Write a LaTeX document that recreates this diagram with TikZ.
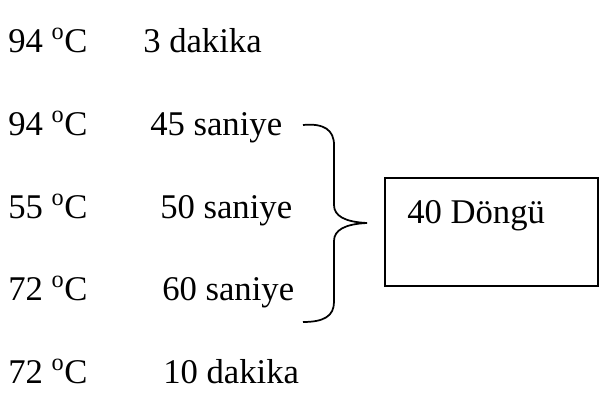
\documentclass[tikz,border=0pt]{standalone}
\usepackage{fontspec}
\setmainfont{Liberation Serif}
\begin{document}
\begin{tikzpicture}[x=0.75pt,y=-0.75pt,
  lbl/.style={anchor=base west,inner sep=0pt,font=\fontsize{26}{30}\selectfont},
  line/.style={line width=1.3pt,black}]
\useasboundingbox (0,0) rectangle (600,400);
\node[lbl] (t1) at (8,52) {94 \textsuperscript{o}C};
\node[lbl] (s1) at (143,52) {3 dakika};
\node[lbl] (t2) at (8,135) {94 \textsuperscript{o}C};
\node[lbl] (s2) at (150,135) {45 saniye};
\node[lbl] (t3) at (8,218) {55 \textsuperscript{o}C};
\node[lbl] (s3) at (160,218) {50 saniye};
\node[lbl] (t4) at (8,300) {72 \textsuperscript{o}C};
\node[lbl] (s4) at (162,300) {60 saniye};
\node[lbl] (t5) at (8,383) {72 \textsuperscript{o}C};
\node[lbl] (s5) at (163,383) {10 dakika};
% brace
\draw[line] (303,125) .. controls (324,123) and (334,130) .. (334,145)
  -- (334,205) .. controls (334,216) and (345,222) .. (367,223)
  .. controls (345,224) and (334,230) .. (334,241)
  -- (334,302) .. controls (334,316) and (324,322) .. (303,322);
% box
\node[draw,line,minimum width=213*0.75pt,minimum height=108*0.75pt,inner sep=0pt,anchor=north west] (box) at (384,177) {};
\node[lbl] (cyc) at (407,223) {40 Döngü};
\end{tikzpicture}
\end{document}
